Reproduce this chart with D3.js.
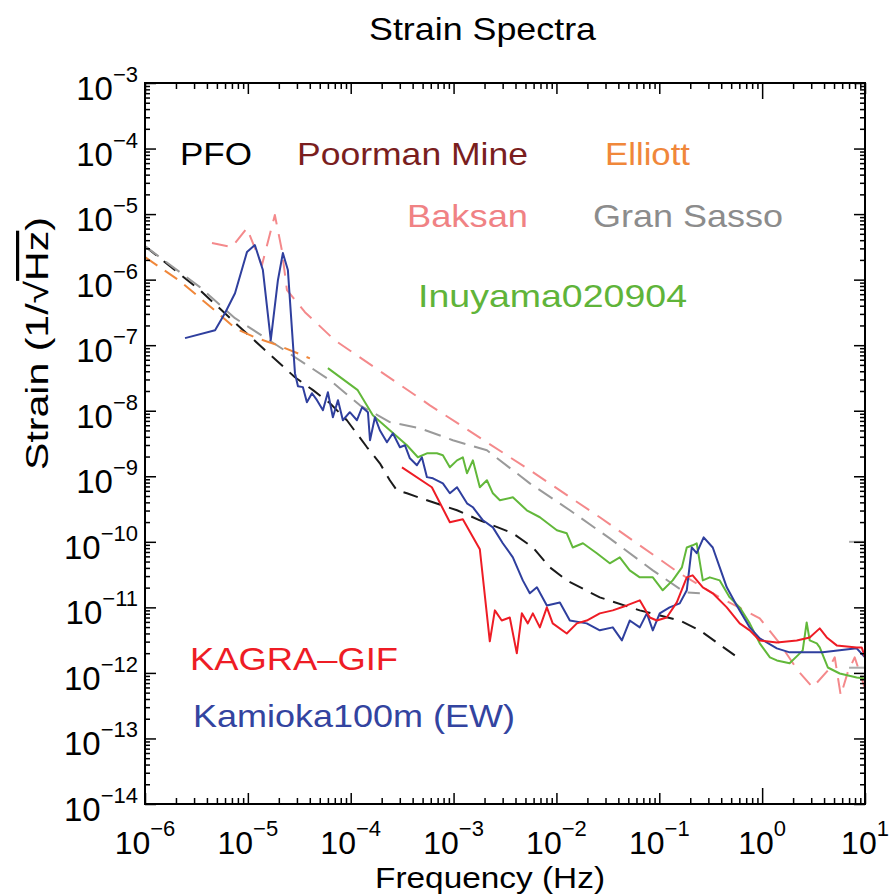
<!DOCTYPE html>
<html>
<head>
<meta charset="utf-8">
<script src="https://d3js.org/d3.v7.min.js"></script>
<style>
body { margin: 0; background: #fff; }
svg text { font-family: "Liberation Sans", Arial, Helvetica, sans-serif; }
</style>
</head>
<body>
<svg width="892" height="895"></svg>
<script>
// [frequency (Hz), strain (1/sqrt(Hz))]
var pfo = [[1e-6,3.24e-6],[3.42e-6,6.9e-7],[8.37e-6,1.88e-7],[1.37e-5,9.3e-8],[2.87e-5,3.24e-8],[4.3e-5,2.06e-8],
    [6.28e-5,1.30e-8],[9.18e-5,7.16e-9],[1.44e-4,2.77e-9],[1.92e-4,1.58e-9],[2.40e-4,8.7e-10],[2.81e-4,6.1e-10],
    [3.52e-4,5.5e-10],[5.51e-4,4.3e-10],[1.08e-3,3.03e-10],[1.80e-3,2.13e-10],[3.77e-3,1.35e-10],[5.9e-3,8.2e-11],
    [8.63e-3,4.08e-11],[1.26e-2,2.58e-11],[2.64e-2,1.42e-11],[6.46e-2,9.0e-12],[0.158,6.3e-12],[0.248,4.46e-12],[0.542,1.85e-12]];

var granSasso = [[1e-6,3.24e-6],[3.42e-6,7.7e-7],[7.5e-6,2.58e-7],[2.05e-5,9.3e-8],[6.28e-5,2.92e-8],[1.23e-4,1.21e-8],
    [2.40e-4,6.7e-9],[4.70e-4,5.4e-9],[9.84e-4,3.55e-9],[2.11e-3,2.49e-9],[5.51e-3,7.8e-10],[1.35e-2,3.03e-10],
    [3.30e-2,1.13e-10],[8.65e-2,3.67e-11],[0.177,1.69e-11],[0.248,1.64e-11]];

var elliott = [[1e-6,2.21e-6],[2.19e-6,9.5e-7],[5.12e-6,3.08e-7],[7.5e-6,1.82e-7],[1.17e-5,1.32e-7],[2.05e-5,9.7e-8],[4.01e-5,6.3e-8]];

var baksan = [[4.48e-6,3.61e-6],[7.0e-6,3.13e-6],[9.8e-6,6.1e-6],[1.12e-5,3.61e-6],[1.37e-5,1.66e-6],[1.83e-5,9.7e-6],
    [2.14e-5,2.82e-6],[2.40e-5,6.9e-7],[3.59e-5,3.19e-7],[7.0e-5,1.19e-7],[5.89e-4,1.21e-8],[5.51e-3,1.24e-9],
    [2.64e-2,2.37e-10],[0.158,3.3e-11],[0.387,1.42e-11],[0.948,6.8e-12],[1.48,2.82e-12],[2.22,1.09e-12],[3.10,6.0e-13],
    [4.35,1.09e-12],[5.08,1.73e-12],[5.81,4.53e-13],[6.79,1.02e-12],[7.94,1.73e-12],[10,5.8e-13]];

var inuyama = [[6.0e-5,4.46e-8],[1.17e-4,2.06e-8],[1.64e-4,8.5e-9],[2.40e-4,5.04e-9],[3.52e-4,2.97e-9],[4.5e-4,1.95e-9],
    [5.51e-4,2.24e-9],[6.89e-4,2.24e-9],[7.87e-4,2.09e-9],[9.2e-4,1.37e-9],[1.08e-3,1.75e-9],[1.23e-3,1.95e-9],
    [1.35e-3,1.11e-9],[1.54e-3,1.75e-9],[1.80e-3,6.8e-10],[2.11e-3,8.7e-10],[2.41e-3,5.5e-10],[2.82e-3,4.3e-10],
    [3.77e-3,4.78e-10],[5.15e-3,3.03e-10],[6.9e-3,2.37e-10],[1.01e-2,1.50e-10],[1.26e-2,1.35e-10],[1.44e-2,8.2e-11],
    [1.81e-2,9.5e-11],[2.47e-2,6.7e-11],[3.30e-2,4.7e-11],[4.13e-2,5.8e-11],[5.16e-2,3.67e-11],[6.46e-2,2.87e-11],
    [8.65e-2,2.87e-11],[0.108,1.82e-11],[0.135,2.58e-11],[0.166,4.08e-11],[0.185,8.2e-11],[0.211,8.85e-11],
    [0.231,9.5e-11],[0.265,2.58e-11],[0.310,2.87e-11],[0.387,2.58e-11],[0.484,1.42e-11],[0.605,1.0e-11],
    [0.757,5.7e-12],[0.948,2.82e-12],[1.19,1.73e-12],[1.39,1.55e-12],[1.85,1.40e-12],[2.22,1.85e-12],[2.48,2.21e-12],
    [2.71,5.9e-12],[2.90,3.13e-12],[3.40,2.82e-12],[3.63,2.45e-12],[4.35,1.21e-12],[5.68,9.8e-13],[8.3,8.5e-13],[10,8.2e-13]];

var kamioka = [[2.45e-6,1.28e-7],[4.8e-6,1.69e-7],[6.0e-6,3.1e-7],[7.5e-6,6.2e-7],[9.8e-6,2.63e-6],[1.17e-5,3.37e-6],
    [1.40e-5,1.40e-6],[1.67e-5,1.19e-7],[1.96e-5,9.8e-7],[2.19e-5,2.54e-6],[2.45e-5,1.40e-6],[2.87e-5,3.74e-8],
    [3.07e-5,2.37e-8],[3.43e-5,2.29e-8],[3.75e-5,1.35e-8],[4.2e-5,1.85e-8],[4.7e-5,1.45e-8],[5.37e-5,1.02e-8],
    [6.0e-5,1.91e-8],[6.71e-5,7.96e-9],[7.52e-5,1.45e-8],[8.39e-5,7.16e-9],[9.8e-5,9.5e-9],[1.15e-4,7.16e-9],
    [1.29e-4,1.13e-8],[1.47e-4,9.5e-9],[1.54e-4,3.55e-9],[1.72e-4,7.96e-9],[1.92e-4,5.04e-9],[2.25e-4,3.30e-9],
    [2.57e-4,4.53e-9],[3.01e-4,2.77e-9],[3.37e-4,2.97e-9],[3.76e-4,1.88e-9],[4.4e-4,1.47e-9],[4.92e-4,1.95e-9],
    [5.51e-4,9.7e-10],[6.3e-4,9.3e-10],[7.87e-4,7.8e-10],[9.2e-4,5.5e-10],[1.08e-3,6.8e-10],[1.35e-3,3.87e-10],
    [1.54e-3,3.37e-10],[1.93e-3,2.13e-10],[2.41e-3,1.66e-10],[3.01e-3,9.5e-11],[3.77e-3,5.8e-11],[4.71e-3,2.58e-11],
    [5.51e-3,1.64e-11],[6.46e-3,2.02e-11],[8.07e-3,1.07e-11],[1.08e-2,1.19e-11],[1.35e-2,6.3e-12],[1.97e-2,5.7e-12],
    [2.64e-2,4.46e-12],[3.53e-2,4.95e-12],[4.33e-2,3.13e-12],[5.16e-2,6.3e-12],[6.46e-2,4.95e-12],[7.57e-2,8.1e-12],
    [8.65e-2,4.46e-12],[0.101,8.1e-12],[0.126,1.0e-11],[0.158,1.15e-11],[0.185,1.82e-11],[0.207,8.2e-11],
    [0.231,6.7e-11],[0.270,1.17e-10],[0.331,8.2e-11],[0.387,4.08e-11],[0.453,2.02e-11],[0.566,1.07e-11],
    [0.757,4.95e-12],[0.948,3.36e-12],[1.39,2.37e-12],[1.85,2.06e-12],[3.88,2.06e-12],[8.3,2.37e-12],[10,1.73e-12]];

var kagra = [[3.15e-4,1.37e-9],[6.15e-4,6.8e-10],[9.2e-4,1.99e-10],[1.23e-3,2.21e-10],[1.80e-3,7.7e-11],[2.25e-3,3.03e-12],
    [2.52e-3,9.0e-12],[2.94e-3,6.3e-12],[3.52e-3,7.0e-12],[4.12e-3,1.99e-12],[4.61e-3,8.1e-12],[5.27e-3,5.7e-12],
    [5.9e-3,8.1e-12],[6.9e-3,4.95e-12],[8.07e-3,1.0e-11],[9.2e-3,5.7e-12],[1.26e-2,4.0e-12],[1.58e-2,5.7e-12],
    [1.97e-2,6.3e-12],[2.64e-2,8.1e-12],[3.53e-2,9.0e-12],[4.83e-2,1.07e-11],[6.46e-2,1.28e-11],[8.09e-2,7.0e-12],
    [9.46e-2,6.3e-12],[0.118,7.0e-12],[0.148,1.19e-11],[0.185,2.87e-11],[0.211,3.08e-11],[0.265,2.02e-11],
    [0.331,1.64e-11],[0.453,1.0e-11],[0.605,5.7e-12],[0.757,4.46e-12],[0.948,3.13e-12],[1.39,2.92e-12],
    [2.17,3.13e-12],[2.90,3.48e-12],[3.63,4.78e-12],[4.25,3.48e-12],[5.31,2.63e-12],[8.3,2.45e-12],[9.29,2.45e-12],[10,1.73e-12]];

var xExponents = [-6, -5, -4, -3, -2, -1, 0, 1];
var yExponents = [-14, -13, -12, -11, -10, -9, -8, -7, -6, -5, -4, -3];
var legendNames = ["PFO", "Poorman Mine", "Elliott", "Baksan", "Gran Sasso", "Inuyama020904", "KAGRA\u2013GIF", "Kamioka100m (EW)"];
var edgeMarks = [1e-10, 1.2e-12];

var width = 892;
var height = 895;
var margin = {top: 83, right: 27, bottom: 91, left: 145};

var svg = d3.select("svg");

var x = d3.scaleLog().domain([1e-6, 1e1]).range([margin.left, width - margin.right]);
var y = d3.scaleLog().domain([1e-14, 1e-3]).range([height - margin.bottom, margin.top]);

var majorX = xExponents.map(function(e) { return Math.pow(10, e); });
var majorY = yExponents.map(function(e) { return Math.pow(10, e); });
var minorX = [], minorY = [];
xExponents.slice(0, -1).forEach(function(e) {
    for (var m = 2; m < 10; m++) minorX.push(m * Math.pow(10, e));
});
yExponents.slice(0, -1).forEach(function(e) {
    for (var m = 2; m < 10; m++) minorY.push(m * Math.pow(10, e));
});

svg.append("clipPath").attr("id", "plot")
    .append("rect")
    .attr("x", margin.left).attr("y", margin.top)
    .attr("width", width - margin.left - margin.right)
    .attr("height", height - margin.top - margin.bottom);

var series = [
    {data: pfo, color: "#1a1a1a", dash: "15,9"},
    {data: granSasso, color: "#9a9a9a", dash: "17,9"},
    {data: elliott, color: "#f0873a", dash: "15,9"},
    {data: baksan, color: "#f4898b", dash: "16,10"},
    {data: inuyama, color: "#62b83a", dash: null},
    {data: kamioka, color: "#2f3f9e", dash: null},
    {data: kagra, color: "#ee1c25", dash: null}
];

var line = d3.line()
    .x(function(d) { return x(d[0]); })
    .y(function(d) { return y(d[1]); });

var g = svg.append("g").attr("clip-path", "url(#plot)");

g.selectAll("path")
    .data(series)
    .enter().append("path")
    .attr("d", function(d) { return line(d.data); })
    .attr("fill", "none")
    .attr("stroke", function(d) { return d.color; })
    .attr("stroke-width", 2)
    .attr("stroke-linejoin", "round")
    .attr("stroke-dasharray", function(d) { return d.dash; });

// little grey marks on the right edge
g.selectAll(".edge")
    .data(edgeMarks)
    .enter().append("line")
    .attr("class", "edge")
    .attr("x1", x(7)).attr("x2", x(10))
    .attr("y1", function(d) { return y(d); })
    .attr("y2", function(d) { return y(d); })
    .attr("stroke", "#aaa")
    .attr("stroke-width", 2);

// axes: ticks point inward on all four sides
function styleAxis(sel) {
    sel.select(".domain").remove();
    sel.selectAll("text").remove();
    sel.selectAll("line").attr("stroke", "#000").attr("stroke-width", 1.5);
}
function majorLen(d) { return d === 1 ? 16 : 11; }

[[d3.axisBottom, height - margin.bottom], [d3.axisTop, margin.top]].forEach(function(a) {
    svg.append("g")
        .attr("transform", "translate(0," + a[1] + ")")
        .call(a[0](x).tickValues(minorX).tickSize(-6))
        .call(styleAxis);
    var maj = svg.append("g")
        .attr("transform", "translate(0," + a[1] + ")")
        .call(a[0](x).tickValues(majorX).tickSize(-11))
        .call(styleAxis);
    var sign = a[0] === d3.axisBottom ? -1 : 1;
    maj.selectAll(".tick line").attr("y2", function(d) { return sign * majorLen(d); });
});

[[d3.axisLeft, margin.left], [d3.axisRight, width - margin.right]].forEach(function(a) {
    svg.append("g")
        .attr("transform", "translate(" + a[1] + ",0)")
        .call(a[0](y).tickValues(minorY).tickSize(-5))
        .call(styleAxis);
    svg.append("g")
        .attr("transform", "translate(" + a[1] + ",0)")
        .call(a[0](y).tickValues(majorY).tickSize(-11))
        .call(styleAxis);
});

svg.append("rect")
    .attr("x", margin.left).attr("y", margin.top)
    .attr("width", width - margin.left - margin.right)
    .attr("height", height - margin.top - margin.bottom)
    .attr("fill", "none")
    .attr("stroke", "#000")
    .attr("stroke-width", 2);

function expText(e) { return e < 0 ? "\u2212" + (-e) : String(e); }

var xl = svg.append("g").selectAll("text")
    .data(xExponents)
    .enter().append("text")
    .attr("x", function(d) { return x(Math.pow(10, d)); })
    .attr("y", height - margin.bottom + 50)
    .attr("text-anchor", "middle")
    .style("font-size", "32px");
xl.append("tspan").text("10");
xl.append("tspan").attr("dy", -18).style("font-size", "22px").text(expText);

var yl = svg.append("g").selectAll("text")
    .data(yExponents)
    .enter().append("text")
    .attr("x", margin.left - 7)
    .attr("y", function(d) { return y(Math.pow(10, d)) + 17; })
    .attr("text-anchor", "end")
    .style("font-size", "33px");
yl.append("tspan").text("10");
yl.append("tspan").attr("dy", -18).style("font-size", "22px").text(expText);

// series names written inside the plot
var legendStyle = [
    {x: 180, y: 165, len: 72, color: "#000000"},
    {x: 297, y: 165, len: 231, color: "#7a1e1e"},
    {x: 605, y: 165, len: 85, color: "#f0873a"},
    {x: 407, y: 227, len: 121, color: "#f08284"},
    {x: 593, y: 227, len: 190, color: "#8c8c8c"},
    {x: 418, y: 307, len: 269, color: "#5fb43a"},
    {x: 190, y: 670, len: 208, color: "#ee1c25"},
    {x: 193, y: 727, len: 322, color: "#3344a0"}
];

svg.append("g").selectAll("text")
    .data(legendNames)
    .enter().append("text")
    .attr("x", function(d, i) { return legendStyle[i].x; })
    .attr("y", function(d, i) { return legendStyle[i].y; })
    .attr("textLength", function(d, i) { return legendStyle[i].len; })
    .attr("lengthAdjust", "spacingAndGlyphs")
    .attr("fill", function(d, i) { return legendStyle[i].color; })
    .style("font-size", "32px")
    .text(function(d) { return d; });

svg.append("text")
    .attr("x", 369).attr("y", 40)
    .attr("textLength", 227).attr("lengthAdjust", "spacingAndGlyphs")
    .style("font-size", "32px")
    .text("Strain Spectra");

svg.append("text")
    .attr("x", 375).attr("y", 888)
    .attr("textLength", 230).attr("lengthAdjust", "spacingAndGlyphs")
    .style("font-size", "30px")
    .text("Frequency  (Hz)");

var ylab = svg.append("text")
    .attr("transform", "translate(48,470) rotate(-90)")
    .attr("textLength", 253).attr("lengthAdjust", "spacingAndGlyphs")
    .style("font-size", "32px");
ylab.append("tspan").text("Strain  (1/\u221A");
ylab.append("tspan").style("text-decoration", "overline").text("Hz");
ylab.append("tspan").text(")");
</script>
</body>
</html>
